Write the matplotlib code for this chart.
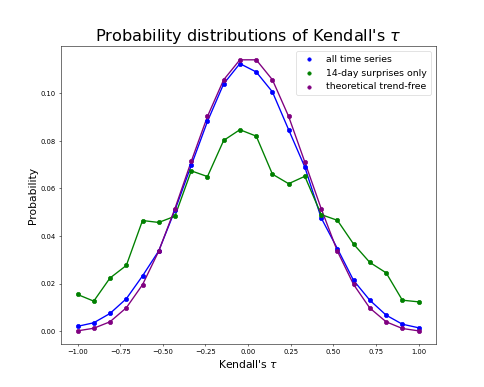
import matplotlib
matplotlib.use("Agg")
import matplotlib.pyplot as plt

tau = [-1.0, -0.905, -0.810, -0.714, -0.619, -0.524, -0.429, -0.333, -0.238, -0.143, -0.048,
       0.048, 0.143, 0.238, 0.333, 0.429, 0.524, 0.619, 0.714, 0.810, 0.905, 1.0]

all_series = [0.0020, 0.0035, 0.0074, 0.0136, 0.0232, 0.0337, 0.0508, 0.0697, 0.0882, 0.1040, 0.1125,
              0.1090, 0.1006, 0.0847, 0.0690, 0.0476, 0.0347, 0.0213, 0.0130, 0.0067, 0.0029, 0.0014]
surprises = [0.0154, 0.0126, 0.0223, 0.0276, 0.0465, 0.0457, 0.0483, 0.0674, 0.0650, 0.0802, 0.0847,
             0.0820, 0.0660, 0.0620, 0.0651, 0.0490, 0.0466, 0.0366, 0.0289, 0.0245, 0.0130, 0.0123]
trend_free = [0.0001, 0.0012, 0.0039, 0.0098, 0.0195, 0.0336, 0.0515, 0.0714, 0.0903, 0.1057, 0.1141,
              0.1141, 0.1057, 0.0903, 0.0711, 0.0515, 0.0336, 0.0196, 0.0097, 0.0039, 0.0011, 0.0001]

labels = ["all time series", "14-day surprises only", "theoretical trend-free"]
colors = ["blue", "green", "purple"]

fig, ax = plt.subplots(figsize=(10, 8), dpi=48.4)
for ys, lab, c in zip([all_series, surprises, trend_free], labels, colors):
    ax.plot(tau, ys, color=c, linewidth=2)
    ax.scatter(tau, ys, color=c, s=40, label=lab, zorder=3)

ax.set_title("Probability distributions of Kendall's $\\tau$", fontsize=24)
ax.set_xlabel("Kendall's $\\tau$", fontsize=16)
ax.set_ylabel("Probability", fontsize=16)
ax.tick_params(labelsize=10)
ax.legend(loc="upper right", fontsize=14, markerscale=0.8)

fig.savefig("out.png", dpi=48.4)
